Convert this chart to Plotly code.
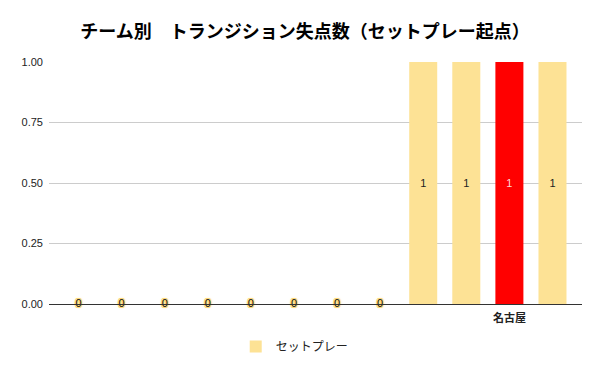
import plotly.graph_objects as go

categories = list(range(12))
tick_labels = ["", "", "", "", "", "", "", "", "", "", "<b>名古屋</b>", ""]
values = [0, 0, 0, 0, 0, 0, 0, 0, 1, 1, 1, 1]
bar_colors = ["#FDE295"] * 10 + ["#FF0000"] + ["#FDE295"]
label_colors = ["#222222"] * 10 + ["#FFD6D6"] + ["#222222"]
series_name = "セットプレー"
title = "チーム別　トランジション失点数（セットプレー起点）"
y_ticks = [0, 0.25, 0.5, 0.75, 1.0]

fig = go.Figure()
fig.add_trace(go.Bar(
    x=categories, y=values, name=series_name,
    marker=dict(color=bar_colors, line=dict(width=0)),
    text=[str(v) for v in values], textposition="inside", insidetextanchor="middle",
    textfont=dict(family="Liberation Sans, Arial", size=11, color=label_colors),
    textangle=0, width=0.65, showlegend=True,
))
zero_idx = [i for i, v in enumerate(values) if v == 0]
fig.add_trace(go.Scatter(
    x=[categories[i] for i in zero_idx], y=[values[i] for i in zero_idx], mode="text",
    text=[str(values[i]) for i in zero_idx],
    textfont=dict(family="Liberation Sans, Arial", size=11, color="#111111",
                  shadow="1px 1px 0 #FDD870, -1px -1px 0 #FDD870, 1px -1px 0 #FDD870, "
                         "-1px 1px 0 #FDD870, 0 0 3px #F2C14E"),
    showlegend=False, hoverinfo="skip", cliponaxis=False,
))

fig.update_layout(
    width=600, height=371,
    margin=dict(l=41, r=26, t=54, b=75),
    paper_bgcolor="white", plot_bgcolor="white",
    title=dict(text=f"<b>{title}</b>", x=297 / 600, xanchor="center", y=1 - 24 / 371,
               yanchor="middle", xref="container",
               font=dict(family="Noto Sans CJK JP", size=18, color="#000")),
    font=dict(family="Liberation Sans, Arial", size=11, color="#222"),
    legend=dict(orientation="h", x=0.461, xanchor="center", y=-0.116, yanchor="top",
                font=dict(family="Noto Sans CJK JP", size=12, color="#222")),
    uniformtext=dict(minsize=11, mode="show"),
    showlegend=True,
)
fig.update_xaxes(
    range=[-0.685, 11.685], tickmode="array", tickvals=categories, ticktext=tick_labels,
    showgrid=False, showline=True, linecolor="#333", linewidth=1, ticks="",
    ticklabelstandoff=4,
    tickfont=dict(family="Noto Sans CJK JP", size=11, color="#222"), zeroline=False,
)
fig.update_yaxes(
    range=[0, 1], tickmode="array", tickvals=y_ticks, ticktext=[f"{t:.2f}" for t in y_ticks],
    showgrid=True, gridcolor="#CCCCCC", gridwidth=1, zeroline=False, showline=False,
    tickfont=dict(size=11, color="#222"), ticks="", ticklabelstandoff=5,
)
fig.write_html("out.html")
